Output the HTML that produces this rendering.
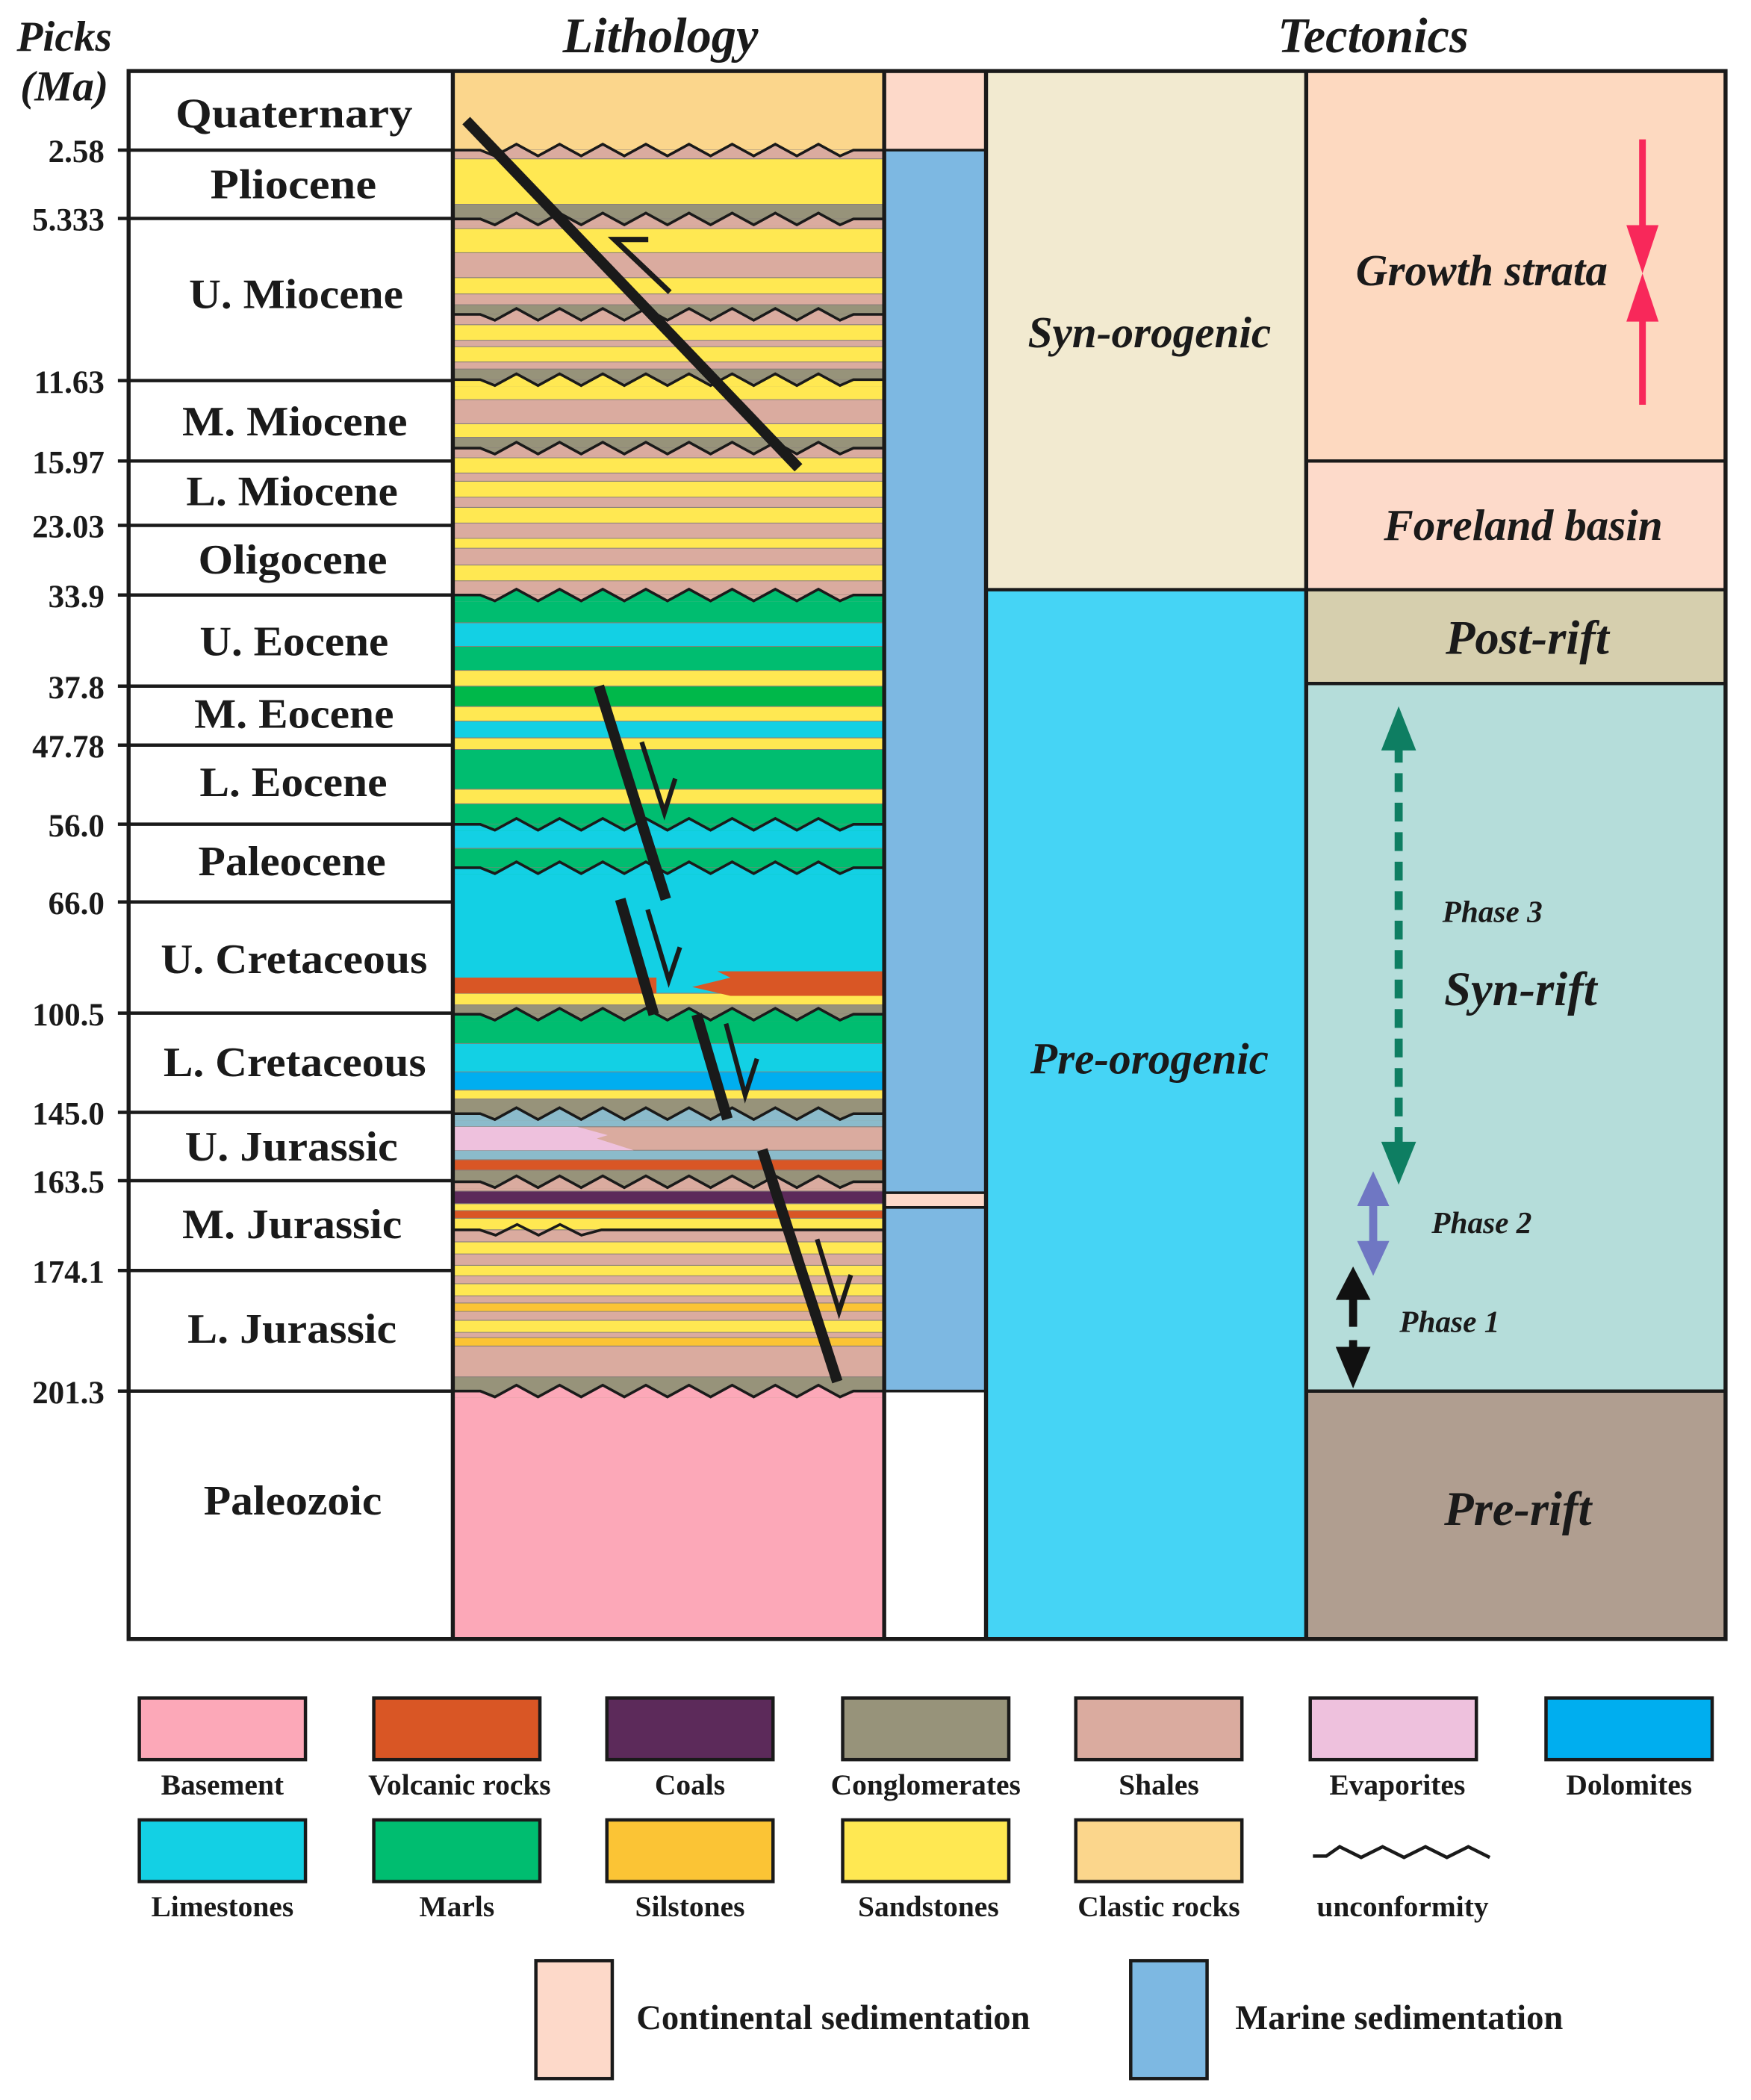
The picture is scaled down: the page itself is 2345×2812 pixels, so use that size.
<!DOCTYPE html>
<html><head><meta charset="utf-8"><style>
html,body{margin:0;padding:0;background:#fff}
svg{display:block}
text{font-family:"Liberation Serif",serif;font-weight:bold;fill:#1a1a1a}
.it{font-style:italic}
</style></head><body>
<svg id="s" xmlns="http://www.w3.org/2000/svg" width="2345" height="2812" viewBox="0 0 1307 1567" preserveAspectRatio="none">
<rect x="0" y="0" width="1307" height="1567" fill="#fff"/>
<g id="lith"></g>
<rect x="660" y="53" width="76" height="59" fill="#FDD9C9"/>
<rect x="660" y="112" width="76" height="778" fill="#7DB8E2"/>
<rect x="660" y="890" width="76" height="11" fill="#FDD9C9"/>
<rect x="660" y="901" width="76" height="137" fill="#7DB8E2"/>
<g stroke="#1a1a1a" stroke-width="2">
<line x1="660" y1="112" x2="736" y2="112"/><line x1="660" y1="890" x2="736" y2="890"/>
<line x1="660" y1="901" x2="736" y2="901"/><line x1="660" y1="1038" x2="736" y2="1038"/>
</g>
<rect x="736" y="53" width="239" height="387" fill="#F2EAD0"/>
<rect x="736" y="440" width="239" height="783" fill="#45D4F5"/>
<rect x="975" y="53" width="313" height="291" fill="#FDD9C0"/>
<rect x="975" y="344" width="313" height="96" fill="#FDDACA"/>
<rect x="975" y="440" width="313" height="70" fill="#D6CFAE"/>
<rect x="975" y="510" width="313" height="528" fill="#B5DDDA"/>
<rect x="975" y="1038" width="313" height="185" fill="#B09E90"/>
<g stroke="#1a1a1a" stroke-width="2.5">
<line x1="736" y1="440" x2="1288" y2="440"/><line x1="975" y1="344" x2="1288" y2="344"/>
<line x1="975" y1="510" x2="1288" y2="510"/><line x1="975" y1="1038" x2="1288" y2="1038"/>
</g>
<g id="ticks" stroke="#1a1a1a" stroke-width="2.5"></g>
<g stroke="#1a1a1a" stroke-width="3" fill="none">
<rect x="96" y="53" width="1192" height="1170"/>
<line x1="338" y1="53" x2="338" y2="1223"/><line x1="660" y1="53" x2="660" y2="1223"/>
<line x1="736" y1="53" x2="736" y2="1223"/><line x1="975" y1="53" x2="975" y2="1223"/>
</g>
<g stroke="#1a1a1a" fill="none" stroke-linecap="butt">
<line x1="348" y1="90" x2="596" y2="349" stroke-width="8"/>
<polyline points="483.9,178.7 458.6,178.7 500,218" stroke-width="4"/>
<line x1="447" y1="512" x2="497" y2="671" stroke-width="8"/>
<polyline points="479,553.7 495.9,606.5 504,581" stroke-width="3.5"/>
<line x1="463" y1="671" x2="488" y2="757" stroke-width="8"/>
<polyline points="483.4,678.7 499.2,731.4 507.5,706.8" stroke-width="3.5"/>
<line x1="520" y1="757" x2="543" y2="835" stroke-width="8"/>
<polyline points="541.9,763.8 556.2,817.3 565,790" stroke-width="3.5"/>
<line x1="569" y1="858" x2="625" y2="1031" stroke-width="8"/>
<polyline points="609.9,924.7 626.3,978.6 635.1,951.3" stroke-width="3.5"/>
</g>
<g>
<line x1="1226" y1="104" x2="1226" y2="180" stroke="#F8285A" stroke-width="5"/>
<polygon points="1214,168 1238,168 1226,204" fill="#F8285A"/>
<line x1="1226" y1="226" x2="1226" y2="302" stroke="#F8285A" stroke-width="5"/>
<polygon points="1214,240 1238,240 1226,204" fill="#F8285A"/>
<line x1="1044" y1="555" x2="1044" y2="858" stroke="#0E7E62" stroke-width="6" stroke-dasharray="14,8"/>
<polygon points="1031,560 1057,560 1044,527" fill="#0E7E62"/>
<polygon points="1031,852 1057,852 1044,884" fill="#0E7E62"/>
<line x1="1025" y1="895" x2="1025" y2="930" stroke="#6F77C3" stroke-width="6"/>
<polygon points="1013,900 1037,900 1025,874" fill="#6F77C3"/>
<polygon points="1013,926 1037,926 1025,952" fill="#6F77C3"/>
<line x1="1010" y1="965" x2="1010" y2="990" stroke="#111" stroke-width="6"/>
<polygon points="997,970 1023,970 1010,945" fill="#111"/>
<line x1="1010" y1="1000" x2="1010" y2="1015" stroke="#111" stroke-width="6"/>
<polygon points="997,1005 1023,1005 1010,1036" fill="#111"/>
</g>
<text class="it" x="48" y="38" font-size="32" text-anchor="middle">Picks</text>
<text class="it" x="48" y="75" font-size="32" text-anchor="middle">(Ma)</text>
<text class="it" x="493" y="39" font-size="37" text-anchor="middle">Lithology</text>
<text class="it" x="1025" y="39" font-size="37" text-anchor="middle">Tectonics</text>
<g font-size="24" text-anchor="end">
<text x="78" y="121">2.58</text><text x="78" y="172">5.333</text><text x="78" y="293">11.63</text>
<text x="78" y="353">15.97</text><text x="78" y="401">23.03</text><text x="78" y="453">33.9</text>
<text x="78" y="521">37.8</text><text x="78" y="565">47.78</text><text x="78" y="624">56.0</text>
<text x="78" y="682">66.0</text><text x="78" y="765">100.5</text><text x="78" y="839">145.0</text>
<text x="78" y="890">163.5</text><text x="78" y="957">174.1</text><text x="78" y="1047">201.3</text>
</g>
<g font-size="31">
<text x="131" y="95" textLength="177" lengthAdjust="spacingAndGlyphs">Quaternary</text>
<text x="157" y="148" textLength="124" lengthAdjust="spacingAndGlyphs">Pliocene</text>
<text x="141" y="230" textLength="160" lengthAdjust="spacingAndGlyphs">U. Miocene</text>
<text x="136" y="325" textLength="168" lengthAdjust="spacingAndGlyphs">M. Miocene</text>
<text x="139" y="377" textLength="158" lengthAdjust="spacingAndGlyphs">L. Miocene</text>
<text x="148" y="428" textLength="141" lengthAdjust="spacingAndGlyphs">Oligocene</text>
<text x="149" y="489" textLength="141" lengthAdjust="spacingAndGlyphs">U. Eocene</text>
<text x="145" y="543" textLength="149" lengthAdjust="spacingAndGlyphs">M. Eocene</text>
<text x="149" y="594" textLength="140" lengthAdjust="spacingAndGlyphs">L. Eocene</text>
<text x="148" y="653" textLength="140" lengthAdjust="spacingAndGlyphs">Paleocene</text>
<text x="120" y="726" textLength="199" lengthAdjust="spacingAndGlyphs">U. Cretaceous</text>
<text x="122" y="803" textLength="196" lengthAdjust="spacingAndGlyphs">L. Cretaceous</text>
<text x="138" y="866" textLength="159" lengthAdjust="spacingAndGlyphs">U. Jurassic</text>
<text x="136" y="924" textLength="164" lengthAdjust="spacingAndGlyphs">M. Jurassic</text>
<text x="140" y="1002" textLength="156" lengthAdjust="spacingAndGlyphs">L. Jurassic</text>
<text x="152" y="1130" textLength="133" lengthAdjust="spacingAndGlyphs">Paleozoic</text>
</g>
<g font-size="33" text-anchor="middle">
<text class="it" x="858" y="259">Syn-orogenic</text>
<text class="it" x="858" y="801">Pre-orogenic</text>
<text class="it" x="1106" y="213">Growth strata</text>
<text class="it" x="1137" y="403">Foreland basin</text>
<text class="it" x="1140" y="488" font-size="36">Post-rift</text>
<text class="it" x="1135" y="750" font-size="36">Syn-rift</text>
<text class="it" x="1133" y="1138" font-size="36">Pre-rift</text>
<text class="it" x="1114" y="688" font-size="23">Phase 3</text>
<text class="it" x="1106" y="920" font-size="23">Phase 2</text>
<text class="it" x="1082" y="994" font-size="23">Phase 1</text>
</g>
<g stroke="#1a1a1a" stroke-width="2.5">
<rect x="104" y="1267" width="124" height="46" fill="#FCA8B8"/>
<rect x="279" y="1267" width="124" height="46" fill="#D95625"/>
<rect x="453" y="1267" width="124" height="46" fill="#5C2A5A"/>
<rect x="629" y="1267" width="124" height="46" fill="#97937A"/>
<rect x="803" y="1267" width="124" height="46" fill="#DAAB9F"/>
<rect x="978" y="1267" width="124" height="46" fill="#EEC1DD"/>
<rect x="1154" y="1267" width="124" height="46" fill="#00AEEF"/>
<rect x="104" y="1358" width="124" height="46" fill="#13D0E4"/>
<rect x="279" y="1358" width="124" height="46" fill="#00BD70"/>
<rect x="453" y="1358" width="124" height="46" fill="#FBC435"/>
<rect x="629" y="1358" width="124" height="46" fill="#FFE852"/>
<rect x="803" y="1358" width="124" height="46" fill="#FBD68C"/>
<rect x="400" y="1463" width="57" height="88" fill="#FDD9C9"/>
<rect x="844" y="1463" width="57" height="88" fill="#7DB8E2"/>
</g>
<polyline points="980,1385 990,1385 1000,1378 1016,1386 1032,1378 1048,1386 1064,1378 1080,1386 1096,1378 1112,1386" fill="none" stroke="#1a1a1a" stroke-width="2.5"/>
<g font-size="22" text-anchor="middle">
<text x="166" y="1339">Basement</text><text x="343" y="1339">Volcanic rocks</text>
<text x="515" y="1339">Coals</text><text x="691" y="1339">Conglomerates</text>
<text x="865" y="1339">Shales</text><text x="1043" y="1339">Evaporites</text>
<text x="1216" y="1339">Dolomites</text>
<text x="166" y="1430">Limestones</text><text x="341" y="1430">Marls</text>
<text x="515" y="1430">Silstones</text><text x="693" y="1430">Sandstones</text>
<text x="865" y="1430">Clastic rocks</text><text x="1047" y="1430">unconformity</text>
</g>
<text x="475" y="1514" font-size="26">Continental sedimentation</text>
<text x="922" y="1514" font-size="26">Marine sedimentation</text>
</svg>
<script>
(function(){
var NS="http://www.w3.org/2000/svg";
var C={cl:"#FBD68C",sa:"#FFE852",sh:"#DAAB9F",co:"#97937A",ma:"#00BD70",md:"#00B84A",li:"#13D0E4",vo:"#D95625",coal:"#5C2A5A",do:"#00AEEF",ev:"#EEC1DD",si:"#FBC435",ba:"#FCA8B8",bg:"#8BBBCB"};
var L=338,R=660;
var g=document.getElementById("lith");
function el(n,a){var e=document.createElementNS(NS,n);for(var k in a)e.setAttribute(k,a[k]);g.appendChild(e);return e;}
var b=[[53,112,"cl"],[112,118.5,"sh"],[118.5,152.4,"sa"],[152.4,163.4,"co"],[163.4,170.6,"sh"],[170.6,188.6,"sa"],[188.6,207.2,"sh"],[207.2,219.3,"sa"],[219.3,227.4,"sh"],[227.4,234.6,"co"],[234.6,242.3,"sh"],[242.3,253.9,"sa"],[253.9,258.7,"sh"],[258.7,270.1,"sa"],[270.1,275.4,"sh"],[275.4,283.3,"co"],[283.3,298.2,"sa"],[298.2,316.2,"sh"],[316.2,326.3,"sa"],[326.3,334.4,"co"],[334.4,341.6,"sh"],[341.6,353,"sa"],[353,359.1,"sh"],[359.1,371,"sa"],[371,378.6,"sh"],[378.6,390.3,"sa"],[390.3,401.7,"sh"],[401.7,409.1,"sa"],[409.1,421.6,"sh"],[421.6,433.4,"sa"],[433.4,444,"sh"],
[444,464.7,"ma"],[464.7,482.3,"li"],[482.3,500.2,"ma"],[500.2,512,"sa"],[512,527.2,"md"],[527.2,538.1,"sa"],[538.1,550.6,"li"],[550.6,559.2,"sa"],[559.2,588.9,"ma"],[588.9,599.8,"sa"],[599.8,615.1,"ma"],[615.1,633,"li"],[633,647.5,"ma"],[647.5,741.2,"li"],[741.2,749.8,"sa"],[749.8,756.8,"co"],[756.8,778.7,"ma"],[778.7,799.8,"li"],[799.8,813.4,"do"],[813.4,820,"sa"],[820,831,"co"],[831,840.8,"bg"],[840.8,858.3,"sh"],[858.3,865.4,"bg"],[865.4,873.2,"vo"],[873.2,881.8,"co"],[881.8,888.8,"sh"],[888.8,898.2,"coal"],[898.2,903.3,"sa"],[903.3,909.1,"vo"],[909.1,917.7,"sa"],[917.7,926.7,"sh"],[926.7,935.7,"sa"],[935.7,944.2,"sh"],[944.2,952,"sa"],[952,957.9,"sh"],[957.9,966.9,"sa"],[966.9,972.3,"sh"],[972.3,978.6,"si"],[978.6,985.2,"sh"],[985.2,994.2,"sa"],[994.2,998.1,"sh"],[998.1,1004.4,"si"],[1004.4,1027.4,"sh"],[1027.4,1038,"co"],[1038,1223,"ba"]];
b.forEach(function(r){el("rect",{x:L,y:r[0],width:R-L,height:r[1]-r[0]+0.3,fill:C[r[2]]});});
b.forEach(function(r){if(r[0]>53&&r[0]<1038)el("line",{x1:L,y1:r[0],x2:R,y2:r[0],stroke:"#8a7f7a","stroke-width":0.6});});
el("rect",{x:L,y:729.5,width:152,height:11.7,fill:C.vo});
el("polygon",{points:"535.4,724.8 545.2,729.5 516.7,736.5 545.2,743.1 660,743.1 660,724.8",fill:C.vo});
el("polygon",{points:"338,840.8 431,840.8 453.6,847 445.5,849.5 473,858.3 338,858.3",fill:C.ev});
function zz(y,lower,endx){
  endx=endx||637;
  var p=[[L,y],[358.5,y]];var x=369.4,d=1;
  while(x<endx){p.push([x,y+4.4*d]);x+=16.1;d=-d;}
  p.push([endx,y]);p.push([R,y]);
  var s=p.map(function(q){return q[0].toFixed(1)+","+q[1].toFixed(1);}).join(" ");
  if(lower){el("polygon",{points:s+" "+R+","+(y+5)+" "+L+","+(y+5),fill:C[lower]});}
  el("polyline",{points:s,fill:"none",stroke:"#1a1a1a","stroke-width":2});
}
function zb(y,up,lo,endx){el("rect",{x:L,y:y,width:R-L,height:5,fill:C[up]});zz(y,lo,endx);}
zb(112,"cl","sh");zb(163.4,"co","sh");zb(234.6,"co","sh");zb(283.3,"co","sa");zb(334.4,"co","sh");zb(444,"sh","ma");
zb(615.1,"ma","li");zb(647.5,"ma","li");zb(756.8,"co","ma");zb(831,"co","bg");zb(881.8,"co","sh");zb(1038,"co","ba");
(function(){var y=917.7;el("polyline",{points:"338,"+y+" 358,"+y+" 370,"+(y+4)+" 386,"+(y-4)+" 402,"+(y+4)+" 418,"+(y-4)+" 434,"+(y+4)+" 449,"+y+" 660,"+y,fill:"none",stroke:"#1a1a1a","stroke-width":2});})();
var t=document.getElementById("ticks");
[112,163,284,344,392,444,512,556,615,673,756,830,881,948,1038].forEach(function(y){
 var l=document.createElementNS(NS,"line");l.setAttribute("x1",88);l.setAttribute("x2",338);l.setAttribute("y1",y);l.setAttribute("y2",y);t.appendChild(l);
});
})();
</script>
</body></html>
